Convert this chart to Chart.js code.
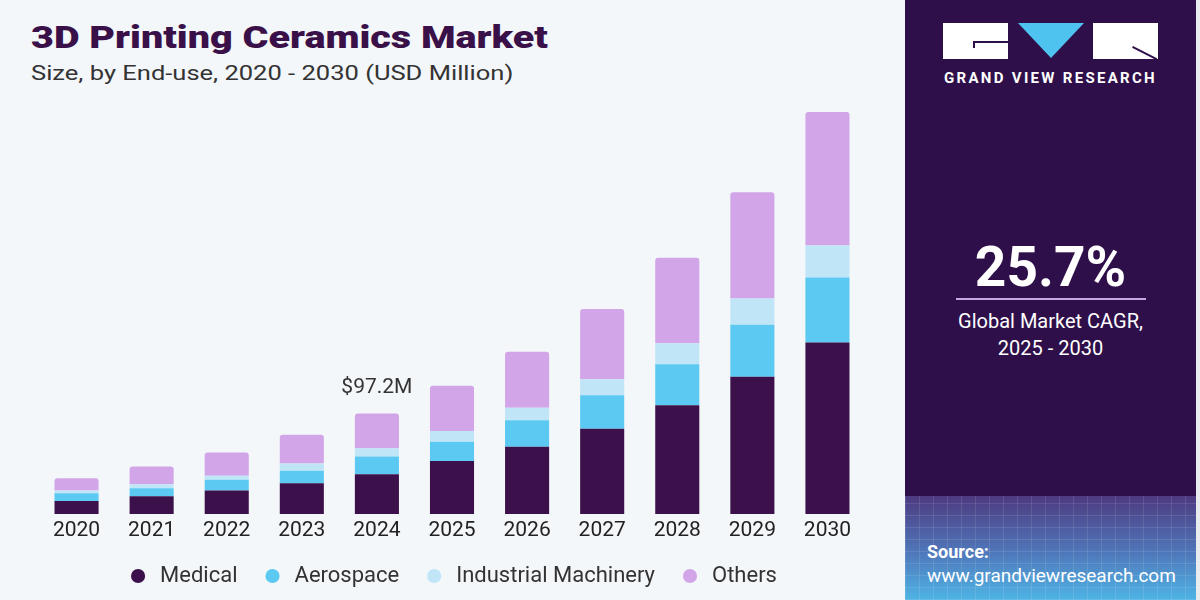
<!DOCTYPE html>
<html>
<head>
<meta charset="utf-8">
<script src="https://cdn.jsdelivr.net/npm/chart.js@4.4.1/dist/chart.umd.min.js"></script>
<style>
  html, body { margin: 0; padding: 0; }
  body { width: 1200px; height: 600px; position: relative; overflow: hidden; background: #f4f7fa; font-family: Roboto, "Liberation Sans", sans-serif; }
  #title { position: absolute; left: 31px; top: 18px; font-size: 32px; font-weight: 900; color: #3a1049; transform: scaleX(1.235); transform-origin: 0 0; white-space: nowrap; }
  #subtitle { position: absolute; left: 31px; top: 61px; font-size: 21px; color: #333; transform: scaleX(1.215); transform-origin: 0 0; white-space: nowrap; }
  #chartBox { position: absolute; left: 0; top: 0; width: 905px; height: 600px; }
  #panel { position: absolute; left: 905px; top: 0; width: 291px; height: 600px; background: #2f0f4a; overflow: hidden; }
  #panel .grid { position: absolute; left: 0; top: 496px; width: 291px; height: 104px;
    background:
      repeating-linear-gradient(90deg, rgba(255,255,255,0.10) 0 1px, transparent 1px 14px),
      repeating-linear-gradient(0deg, rgba(255,255,255,0.10) 0 1px, transparent 1px 12px),
      linear-gradient(180deg, #4e3a80 0%, #4f78bb 55%, #4fb4e4 100%); }
  .logoBox { position: absolute; top: 23px; width: 65px; height: 36px; background: #fff; }
  #tri { position: absolute; left: 113px; top: 23px; width: 0; height: 0; border-left: 33px solid transparent; border-right: 33px solid transparent; border-top: 35px solid #4fc3f0; }
  #gvr { position: absolute; left: 30px; top: 69px; width: 231px; text-align: center; color: #fff; font-size: 15px; font-weight: 700; letter-spacing: 2.3px; }
  #cagr { position: absolute; left: 0; width: 291px; top: 235px; text-align: center; color: #fff; font-size: 55px; font-weight: 700; }
  #rule { position: absolute; left: 51px; top: 298px; width: 190px; height: 2px; background: #c9a6e0; }
  #cagrTxt { position: absolute; left: 0; width: 291px; top: 308px; text-align: center; color: #fff; font-size: 20px; line-height: 27px; }
  #src { position: absolute; left: 22px; top: 540px; color: #fff; font-size: 19px; line-height: 24px; }
  #src b { font-weight: 700; font-size: 18px; }
  #edge { position: absolute; left: 1196px; top: 0; width: 4px; height: 600px; background: #e9ecef; }
</style>
</head>
<body>
<div id="title">3D Printing Ceramics Market</div>
<div id="subtitle">Size, by End-use, 2020 - 2030 (USD Million)</div>
<div id="chartBox"><canvas id="marketChart"></canvas></div>

<div id="panel">
  <div class="grid"></div>
  <div class="logoBox" style="left:38px;">
    <div style="position:absolute;left:30px;top:18px;width:35px;height:2px;background:#2f0f4a;"></div>
    <div style="position:absolute;left:30px;top:18px;width:2px;height:7px;background:#2f0f4a;"></div>
  </div>
  <div id="tri"></div>
  <div class="logoBox" style="left:188px;">
    <div style="position:absolute;left:40px;top:23px;width:27px;height:2px;background:#2f0f4a;transform:rotate(27deg);transform-origin:0 0;"></div>
  </div>
  <div id="gvr">GRAND VIEW RESEARCH</div>
  <div id="cagr">25.7%</div>
  <div id="rule"></div>
  <div id="cagrTxt">Global Market CAGR,<br>2025 - 2030</div>
  <div id="src"><b>Source:</b><br>www.grandviewresearch.com</div>
</div>
<div id="edge"></div>

<script>
const years = ['2020', '2021', '2022', '2023', '2024', '2025', '2026', '2027', '2028', '2029', '2030'];
const medical = [12.6, 17.1, 22.6, 29.7, 38.4, 51.1, 64.9, 82.4, 105.0, 132.5, 165.7];
const aerospace = [7.4, 7.8, 10.4, 12.0, 17.2, 18.7, 25.6, 32.4, 39.7, 50.4, 62.7];
const industrialMachinery = [2.6, 3.9, 3.9, 7.1, 8.0, 10.4, 12.2, 15.5, 20.3, 25.2, 31.0];
const others = [11.9, 17.2, 22.6, 27.8, 33.6, 43.6, 54.0, 67.8, 82.7, 102.7, 128.9];
const calloutYear = '2024';
const calloutText = '$97.2M';

// label above the 2024 stack
const calloutPlugin = {
    id: 'callout',
    afterDatasetsDraw(chart) {
        const idx = years.indexOf(calloutYear);
        const meta = chart.getDatasetMeta(chart.data.datasets.length - 1);
        const bar = meta.data[idx];
        const ctx = chart.ctx;
        ctx.save();
        ctx.font = '21px Roboto, "Liberation Sans", sans-serif';
        ctx.fillStyle = '#333333';
        ctx.textAlign = 'center';
        ctx.textBaseline = 'middle';
        ctx.fillText(calloutText, bar.x, bar.y - 26);
        ctx.restore();
    }
};

// keep the legend compact so the plot can reach down to the axis
const legendHeight = {
    id: 'legendHeight',
    beforeInit(chart) {
        const fit = chart.legend.fit;
        chart.legend.fit = function() {
            fit.bind(chart.legend)();
            this.height = 53;
        };
    },
    afterLayout(chart) {
        chart.legend.top -= 6;
        chart.legend.bottom -= 6;
    }
};

const ctx = document.getElementById('marketChart').getContext('2d');
new Chart(ctx, {
    type: 'bar',
    data: {
        labels: years,
        datasets: [{
            label: 'Medical',
            data: medical,
            backgroundColor: '#3b104b'
        }, {
            label: 'Aerospace',
            data: aerospace,
            backgroundColor: '#5bc9f2'
        }, {
            label: 'Industrial Machinery',
            data: industrialMachinery,
            backgroundColor: '#bfe5f6'
        }, {
            label: 'Others',
            data: others,
            backgroundColor: '#d1a5e8',
            borderRadius: { topLeft: 3, topRight: 3, bottomLeft: 0, bottomRight: 0 },
            borderSkipped: 'bottom'
        }]
    },
    options: {
        responsive: true,
        maintainAspectRatio: false,
        animation: false,
        layout: {
            padding: { left: 39, right: 40, top: 100, bottom: 0 }
        },
        datasets: {
            bar: { categoryPercentage: 1, barPercentage: 0.587 }
        },
        plugins: {
            legend: {
                position: 'bottom',
                labels: {
                    usePointStyle: true,
                    pointStyle: 'circle',
                    boxWidth: 22,
                    boxHeight: 10,
                    padding: 24,
                    color: '#333333',
                    font: { size: 22, family: 'Roboto, "Liberation Sans", sans-serif' }
                }
            },
            tooltip: { enabled: false }
        },
        scales: {
            x: {
                stacked: true,
                grid: { display: false, drawTicks: false },
                border: { display: false },
                ticks: {
                    color: '#222222',
                    padding: 6,
                    font: { size: 21, lineHeight: 1, family: 'Roboto, "Liberation Sans", sans-serif' }
                }
            },
            y: {
                stacked: true,
                display: false,
                min: 0,
                max: 400
            }
        }
    },
    plugins: [calloutPlugin, legendHeight]
});
</script>
</body>
</html>
